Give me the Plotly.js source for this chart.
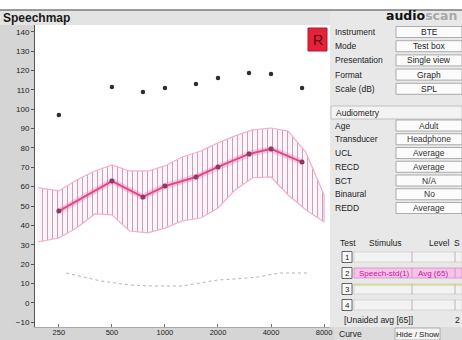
<!DOCTYPE html>
<html>
<head>
<meta charset="utf-8">
<script src="https://cdn.plot.ly/plotly-3.0.1.min.js"></script>
<style>
  html, body { margin: 0; padding: 0; background: #ffffff; }
  #chart { width: 462px; height: 340px; }
</style>
</head>
<body>
<div id="chart"></div>
<script>
// ---- Speechmap data (dB SPL) ----
const freqs = [250, 500, 750, 1000, 1500, 2000, 3000, 4000, 6000];
const ltass = [47.4, 62.9, 54.7, 60.3, 65.0, 70.2, 76.9, 79.5, 72.7];
const ucl = [97.0, 111.5, 108.9, 111.0, 113.0, 116.1, 118.7, 118.2, 111.0];

const bandFreqs = [190, 250, 315, 400, 500, 630, 800, 1000, 1250, 1600, 2000, 2500, 3150, 4000, 5000, 6300, 8000];
const bandTop =    [59.5, 57.8, 63.4, 68.1, 71.2, 68.1, 68.1, 70.7, 75.3, 78.4, 82.6, 86.2, 89.3, 90.3, 88.7, 77.9, 55.7];
const bandBottom = [31.4, 33.5, 38.6, 45.9, 45.4, 37.1, 36.1, 38.6, 42.3, 43.8, 49.0, 58.3, 64.6, 65.0, 55.7, 48.1, 41.7];

const threshFreqs = [275, 345, 430, 630, 820, 1250, 1600, 2000, 2500, 3350, 4500, 6500];
const thresh = [15.4, 13.3, 11.3, 9.2, 8.7, 8.7, 10.2, 11.8, 12.3, 13.3, 15.4, 15.4];

const xTickVals = [250, 500, 1000, 2000, 4000, 8000];
const xTickText = ['250', '500', '1000', '2000', '4000', '8000'];

// ---- side panel text ----
const setupLabels = ['Instrument', 'Mode', 'Presentation', 'Format', 'Scale (dB)'];
const setupValues = ['BTE', 'Test box', 'Single view', 'Graph', 'SPL'];
const audioLabels = ['Age', 'Transducer', 'UCL', 'RECD', 'BCT', 'Binaural', 'REDD'];
const audioValues = ['Adult', 'Headphone', 'Average', 'Average', 'N/A', 'No', 'Average'];
const testHeaders = ['Test', 'Stimulus', 'Level', 'S'];
const testRows = ['1', '2', '3', '4'];

// ---- page geometry (pixels) ----
const W = 462, H = 340;
const L = 35, R = 330, T = 25, B = 327;
const fx = px => (px - L) / (R - L);
const fy = py => (B - py) / (B - T);
const FONT = 'Liberation Sans, Arial, sans-serif';

// closed outline of the speech band
const bandX = bandFreqs.concat(bandFreqs.slice().reverse());
const bandY = bandTop.concat(bandBottom.slice().reverse());

const traces = [
  {
    x: bandX, y: bandY, type: 'scatter', mode: 'lines',
    fill: 'toself',
    fillcolor: 'rgba(250,205,230,0.3)',
    fillpattern: { shape: '|', size: 5, solidity: 0.16, fgcolor: '#b090aa', bgcolor: 'rgba(252,226,240,0.4)' },
    line: { color: '#f2aed0', width: 1.2 },
    hoverinfo: 'skip', showlegend: false
  },
  {
    x: threshFreqs, y: thresh, type: 'scatter', mode: 'lines',
    line: { color: '#b4b4b4', width: 1, dash: 'dot' },
    hoverinfo: 'skip', showlegend: false
  },
  {
    x: freqs, y: ltass, type: 'scatter', mode: 'lines',
    line: { color: 'rgba(240,110,170,0.3)', width: 6 },
    hoverinfo: 'skip', showlegend: false
  },
  {
    x: freqs, y: ltass, type: 'scatter', mode: 'lines+markers',
    line: { color: '#e2478a', width: 2 },
    marker: { color: '#8c3a62', size: 5, symbol: 'circle' },
    hoverinfo: 'skip', showlegend: false
  },
  {
    x: freqs, y: ucl, type: 'scatter', mode: 'markers',
    marker: { color: '#2e2e2e', size: 4.5, symbol: 'circle' },
    hoverinfo: 'skip', showlegend: false
  }
];

const shapes = [];
const annotations = [];

function rect(x0, y0, x1, y1, fill, lineColor, lw) {
  shapes.push({
    type: 'rect', xref: 'paper', yref: 'paper', layer: 'above',
    x0: fx(x0), x1: fx(x1), y0: fy(y1), y1: fy(y0),
    fillcolor: fill, line: { color: lineColor || 'rgba(0,0,0,0)', width: lw === undefined ? 0 : lw }
  });
}
function hline(x0, x1, y, color, w) {
  shapes.push({
    type: 'line', xref: 'paper', yref: 'paper', layer: 'above',
    x0: fx(x0), x1: fx(x1), y0: fy(y), y1: fy(y), line: { color: color, width: w }
  });
}
function text(t, x, y, opts) {
  opts = opts || {};
  annotations.push({
    text: t, xref: 'paper', yref: 'paper', x: fx(x), y: fy(y),
    xanchor: opts.anchor || 'left', yanchor: 'middle', showarrow: false,
    font: { family: opts.family || FONT, size: opts.size || 8.5, color: opts.color || '#222' }
  });
}

// title bar
rect(0, 0, W, 10, '#ffffff');
rect(0, 10, W, 25, '#e3e3e3');
hline(0, W, 10, '#7a7a7a', 1.5);
text('<b>Speechmap</b>', 1, 17.5, { size: 12, color: '#1a1a1a' });

// right-hand panel
rect(R, 11, W, 327, '#e8e8e8');
text('<b>audio</b><span style="color:#a8a8a8"><b>scan</b></span>', 459, 16, { anchor: 'right', size: 12.5, color: '#111', family: 'DejaVu Sans, sans-serif' });

// red channel badge
rect(308, 28, 327, 51, '#e6223a', '#b01828', 1);
text('R', 317.5, 40, { anchor: 'center', size: 14, color: '#5a0a12' });

setupLabels.forEach((lab, i) => {
  const y = 32 + i * 14.2;
  text(lab, 333, y);
  rect(396, y - 5.5, W, y + 5.5, '#fbfbfb', '#9a9a9a', 0.8);
  text(setupValues[i], 429, y, { anchor: 'center' });
});

rect(331, 106, W, 119, '#f3f3f3', '#b5b5b5', 0.8);
text('Audiometry', 334, 112.5);

audioLabels.forEach((lab, i) => {
  const y = 125.5 + i * 13.75;
  text(lab, 333, y);
  rect(396, y - 5.5, W, y + 5.5, '#fbfbfb', '#9a9a9a', 0.8);
  text(audioValues[i], 429, y, { anchor: 'center', color: '#333' });
});

// test table
const headerX = [338, 367, 427, 452];
testHeaders.forEach((h, i) => text(h, headerX[i], 243));
testRows.forEach((n, i) => {
  const y = 257 + i * 16;
  rect(342, y - 5.5, 352, y + 5.5, '#f8f8f8', '#444', 0.8);
  text(n, 347, y, { anchor: 'center', size: 8 });
  const active = i === 1;
  rect(354, y - 5, W, y + 5, active ? '#f9c2ea' : '#f2f2f2', active ? '#d070b8' : '#c8c8c8', 0.6);
  shapes.push({ type: 'line', xref: 'paper', yref: 'paper', layer: 'above',
    x0: fx(412), x1: fx(412), y0: fy(y + 5), y1: fy(y - 5), line: { color: '#b0a0b0', width: 0.8 } });
  shapes.push({ type: 'line', xref: 'paper', yref: 'paper', layer: 'above',
    x0: fx(455), x1: fx(455), y0: fy(y + 5), y1: fy(y - 5), line: { color: '#b0a0b0', width: 0.8 } });
});
text('Speech-std(1)', 357, 273, { size: 8, color: '#c020a0' });
text('Avg (65)', 416, 273, { size: 8, color: '#c020a0' });
hline(354, W, 285, '#c8cf6a', 1.2);
text('[Unaided avg [65]]', 342, 320, { size: 8.5 });
text('2', 453, 320, { size: 8.5 });

// bottom controls
rect(334, 327, W, H, '#dcdcdc');
text('Curve', 337, 334, { size: 8.5 });
rect(395, 328, 440, H, '#f4f4f4', '#a0a0a0', 0.8);
text('Hide / Show', 417.5, 334, { anchor: 'center', size: 8 });

const layout = {
  width: W, height: H,
  margin: { l: L, r: W - R, t: T, b: H - B, pad: 0 },
  paper_bgcolor: '#d5d5d5',
  plot_bgcolor: '#ffffff',
  showlegend: false,
  xaxis: {
    type: 'log',
    range: [Math.log10(183), Math.log10(8646)],
    tickvals: xTickVals, ticktext: xTickText,
    ticks: 'inside', ticklen: 3, tickcolor: '#777',
    ticklabelstandoff: -2,
    showgrid: false, zeroline: false,
    showline: true, linecolor: '#a8a8a8', linewidth: 1,
    tickfont: { family: FONT, size: 7.5, color: '#222' },
    fixedrange: true
  },
  yaxis: {
    range: [-12.5, 143.5],
    tickvals: [-10, 0, 10, 20, 30, 40, 50, 60, 70, 80, 90, 100, 110, 120, 130, 140],
    ticks: 'outside', ticklen: 3, tickcolor: '#555',
    showgrid: false, zeroline: false,
    showline: true, linecolor: '#555', linewidth: 1,
    tickfont: { family: FONT, size: 8, color: '#222' },
    fixedrange: true
  },
  shapes: shapes,
  annotations: annotations
};

Plotly.newPlot('chart', traces, layout, { displayModeBar: false, staticPlot: true });
</script>
</body>
</html>
